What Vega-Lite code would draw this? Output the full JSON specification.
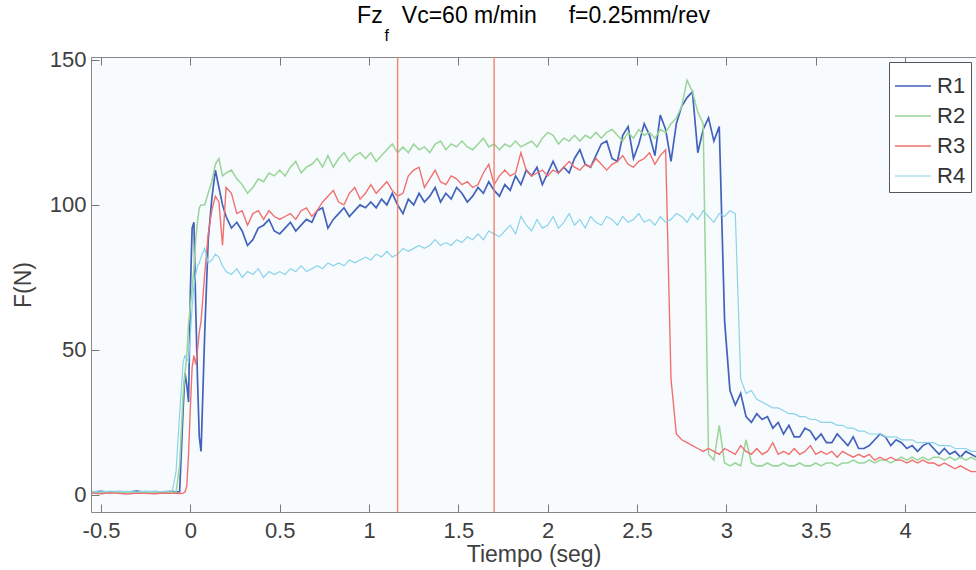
{
  "$schema": "https://vega.github.io/schema/vega-lite/v6.json",
  "width": 885,
  "height": 455,
  "autosize": {"type": "none"},
  "padding": {"left": 91, "top": 57, "right": 0, "bottom": 58},
  "background": "white",
  "title": {
    "text": "Fz\u00a0\u00a0\u00a0Vc=60 m/min\u00a0\u00a0\u00a0\u00a0\u00a0f=0.25mm/rev",
    "subtitle": "f\u00a0\u00a0\u00a0\u00a0\u00a0\u00a0\u00a0\u00a0\u00a0\u00a0\u00a0\u00a0\u00a0\u00a0\u00a0\u00a0\u00a0\u00a0\u00a0\u00a0\u00a0\u00a0\u00a0\u00a0\u00a0\u00a0\u00a0\u00a0\u00a0\u00a0\u00a0\u00a0\u00a0\u00a0\u00a0\u00a0\u00a0\u00a0\u00a0\u00a0\u00a0\u00a0\u00a0\u00a0\u00a0\u00a0\u00a0\u00a0\u00a0\u00a0\u00a0\u00a0\u00a0\u00a0\u00a0\u00a0\u00a0\u00a0\u00a0\u00a0\u00a0\u00a0\u00a0\u00a0\u00a0\u00a0\u200b",
    "anchor": "middle",
    "frame": "group",
    "font": "Liberation Sans",
    "fontSize": 23,
    "fontWeight": "normal",
    "color": "#000000",
    "subtitleFont": "Liberation Sans",
    "subtitleFontSize": 16,
    "subtitleColor": "#000000",
    "subtitlePadding": 0,
    "offset": 5
  },
  "config": {
    "view": {"stroke": null, "fill": "#f8fbfd"},
    "font": "Liberation Sans",
    "legend": {
      "orient": "top-right",
      "offset": 5,
      "symbolType": "stroke",
      "symbolSize": 1296,
      "symbolStrokeWidth": 1.3,
      "labelFontSize": 22,
      "labelColor": "#333333",
      "labelFont": "Liberation Sans",
      "fillColor": "white",
      "strokeColor": "#555555",
      "padding": 5,
      "rowPadding": -1,
      "labelOffset": 5
    }
  },
  "resolve": {"axis": {"x": "independent"}},
  "layer": [
    {
      "data": {
        "values": [
          {"t": -0.55, "R1": 1.0, "R2": 0.8, "R3": 0.6, "R4": 1.2},
          {"t": -0.5, "R1": 1.2, "R2": 0.9, "R3": 0.4, "R4": 1.0},
          {"t": -0.45, "R1": 0.9, "R2": 1.1, "R3": 0.7, "R4": 1.3},
          {"t": -0.4, "R1": 1.1, "R2": 0.7, "R3": 0.5, "R4": 1.1},
          {"t": -0.35, "R1": 1.0, "R2": 1.0, "R3": 0.3, "R4": 1.2},
          {"t": -0.3, "R1": 1.3, "R2": 0.8, "R3": 0.6, "R4": 1.0},
          {"t": -0.25, "R1": 0.9, "R2": 1.0, "R3": 0.5, "R4": 1.3},
          {"t": -0.2, "R1": 1.1, "R2": 0.9, "R3": 0.4, "R4": 1.1},
          {"t": -0.15, "R1": 1.0, "R2": 1.1, "R3": 0.6, "R4": 1.2},
          {"t": -0.1, "R1": 1.2, "R2": 0.9, "R3": 0.5, "R4": 1.4},
          {"t": -0.08, "R1": 1.0, "R2": 1.0, "R3": 0.6, "R4": 8},
          {"t": -0.06, "R1": 1.1, "R2": 10, "R3": 0.5, "R4": 28},
          {"t": -0.04, "R1": 30, "R2": 35, "R3": 0.6, "R4": 46},
          {"t": -0.03, "R1": 42, "R2": 42, "R3": 1.0, "R4": 48},
          {"t": -0.02, "R1": 38, "R2": 48, "R3": 3, "R4": 47},
          {"t": -0.01, "R1": 32, "R2": 59, "R3": 14, "R4": 46},
          {"t": 0, "R1": 70, "R2": 65, "R3": 30, "R4": 55},
          {"t": 0.01, "R1": 92, "R2": 71, "R3": 44, "R4": 65},
          {"t": 0.02, "R1": 94, "R2": 78, "R3": 48, "R4": 72},
          {"t": 0.03, "R1": 65, "R2": 88, "R3": 45, "R4": 76},
          {"t": 0.04, "R1": 40, "R2": 94, "R3": 50, "R4": 79},
          {"t": 0.05, "R1": 20, "R2": 99, "R3": 56, "R4": 80},
          {"t": 0.06, "R1": 15, "R2": 100, "R3": 60, "R4": 82},
          {"t": 0.08, "R1": 55, "R2": 100, "R3": 76, "R4": 85},
          {"t": 0.1, "R1": 88, "R2": 104, "R3": 90, "R4": 80},
          {"t": 0.12, "R1": 102, "R2": 108, "R3": 98, "R4": 81},
          {"t": 0.14, "R1": 112, "R2": 114, "R3": 103, "R4": 83},
          {"t": 0.16, "R1": 106, "R2": 116, "R3": 101, "R4": 82},
          {"t": 0.18, "R1": 100, "R2": 110, "R3": 86, "R4": 79},
          {"t": 0.2, "R1": 96, "R2": 111, "R3": 106, "R4": 77},
          {"t": 0.23, "R1": 92, "R2": 112, "R3": 104, "R4": 76},
          {"t": 0.26, "R1": 94, "R2": 109, "R3": 97, "R4": 78},
          {"t": 0.29, "R1": 91, "R2": 107, "R3": 98, "R4": 75},
          {"t": 0.32, "R1": 86, "R2": 104, "R3": 93, "R4": 77},
          {"t": 0.35, "R1": 88, "R2": 106, "R3": 97, "R4": 76},
          {"t": 0.38, "R1": 92, "R2": 109, "R3": 98, "R4": 78},
          {"t": 0.41, "R1": 93, "R2": 108, "R3": 95, "R4": 75},
          {"t": 0.44, "R1": 95, "R2": 111, "R3": 98, "R4": 77},
          {"t": 0.47, "R1": 91, "R2": 110, "R3": 96, "R4": 76},
          {"t": 0.5, "R1": 90, "R2": 112, "R3": 95, "R4": 77},
          {"t": 0.53, "R1": 92, "R2": 110, "R3": 96, "R4": 76},
          {"t": 0.56, "R1": 94, "R2": 113, "R3": 97, "R4": 78},
          {"t": 0.59, "R1": 91, "R2": 115, "R3": 95, "R4": 77},
          {"t": 0.62, "R1": 93, "R2": 111, "R3": 98, "R4": 79},
          {"t": 0.65, "R1": 95, "R2": 113, "R3": 99, "R4": 77},
          {"t": 0.68, "R1": 94, "R2": 114, "R3": 96, "R4": 78},
          {"t": 0.71, "R1": 98, "R2": 116, "R3": 98, "R4": 79},
          {"t": 0.74, "R1": 99, "R2": 113, "R3": 101, "R4": 78},
          {"t": 0.77, "R1": 92, "R2": 117, "R3": 103, "R4": 80},
          {"t": 0.8, "R1": 95, "R2": 113, "R3": 105, "R4": 79},
          {"t": 0.83, "R1": 97, "R2": 116, "R3": 101, "R4": 80},
          {"t": 0.86, "R1": 99, "R2": 118, "R3": 100, "R4": 79},
          {"t": 0.89, "R1": 96, "R2": 115, "R3": 104, "R4": 81},
          {"t": 0.92, "R1": 98, "R2": 117, "R3": 106, "R4": 80},
          {"t": 0.95, "R1": 100, "R2": 118, "R3": 102, "R4": 81},
          {"t": 0.98, "R1": 99, "R2": 116, "R3": 104, "R4": 82},
          {"t": 1.01, "R1": 101, "R2": 118, "R3": 107, "R4": 81},
          {"t": 1.04, "R1": 99, "R2": 115, "R3": 104, "R4": 83},
          {"t": 1.07, "R1": 102, "R2": 117, "R3": 106, "R4": 82},
          {"t": 1.1, "R1": 100, "R2": 119, "R3": 108, "R4": 84},
          {"t": 1.13, "R1": 104, "R2": 121, "R3": 105, "R4": 82},
          {"t": 1.16, "R1": 100, "R2": 118, "R3": 103, "R4": 83},
          {"t": 1.19, "R1": 97, "R2": 120, "R3": 104, "R4": 85},
          {"t": 1.22, "R1": 102, "R2": 118, "R3": 110, "R4": 84},
          {"t": 1.25, "R1": 100, "R2": 121, "R3": 112, "R4": 85},
          {"t": 1.28, "R1": 104, "R2": 119, "R3": 113, "R4": 86},
          {"t": 1.31, "R1": 101, "R2": 120, "R3": 106, "R4": 85},
          {"t": 1.34, "R1": 103, "R2": 118, "R3": 109, "R4": 86},
          {"t": 1.37, "R1": 106, "R2": 121, "R3": 112, "R4": 88},
          {"t": 1.4, "R1": 101, "R2": 122, "R3": 108, "R4": 86},
          {"t": 1.43, "R1": 104, "R2": 119, "R3": 107, "R4": 87},
          {"t": 1.46, "R1": 102, "R2": 121, "R3": 110, "R4": 86},
          {"t": 1.49, "R1": 106, "R2": 120, "R3": 109, "R4": 88},
          {"t": 1.52, "R1": 104, "R2": 122, "R3": 107, "R4": 87},
          {"t": 1.55, "R1": 101, "R2": 120, "R3": 108, "R4": 89},
          {"t": 1.58, "R1": 103, "R2": 119, "R3": 106, "R4": 88},
          {"t": 1.61, "R1": 106, "R2": 121, "R3": 107, "R4": 90},
          {"t": 1.64, "R1": 104, "R2": 123, "R3": 111, "R4": 88},
          {"t": 1.67, "R1": 108, "R2": 120, "R3": 114, "R4": 91},
          {"t": 1.7, "R1": 105, "R2": 121, "R3": 107, "R4": 90},
          {"t": 1.73, "R1": 103, "R2": 119, "R3": 110, "R4": 89},
          {"t": 1.76, "R1": 107, "R2": 121, "R3": 112, "R4": 91},
          {"t": 1.79, "R1": 105, "R2": 120, "R3": 110, "R4": 93},
          {"t": 1.82, "R1": 110, "R2": 122, "R3": 111, "R4": 90},
          {"t": 1.85, "R1": 107, "R2": 120, "R3": 118, "R4": 96},
          {"t": 1.88, "R1": 112, "R2": 121, "R3": 112, "R4": 93},
          {"t": 1.91, "R1": 110, "R2": 122, "R3": 110, "R4": 91},
          {"t": 1.94, "R1": 113, "R2": 120, "R3": 111, "R4": 95},
          {"t": 1.97, "R1": 107, "R2": 123, "R3": 112, "R4": 92},
          {"t": 2.0, "R1": 111, "R2": 125, "R3": 110, "R4": 93},
          {"t": 2.03, "R1": 115, "R2": 124, "R3": 112, "R4": 96},
          {"t": 2.06, "R1": 111, "R2": 121, "R3": 111, "R4": 92},
          {"t": 2.09, "R1": 113, "R2": 123, "R3": 113, "R4": 94},
          {"t": 2.12, "R1": 111, "R2": 122, "R3": 115, "R4": 97},
          {"t": 2.15, "R1": 116, "R2": 124, "R3": 113, "R4": 93},
          {"t": 2.18, "R1": 119, "R2": 122, "R3": 112, "R4": 95},
          {"t": 2.21, "R1": 114, "R2": 124, "R3": 114, "R4": 92},
          {"t": 2.24, "R1": 113, "R2": 123, "R3": 113, "R4": 96},
          {"t": 2.27, "R1": 117, "R2": 125, "R3": 116, "R4": 94},
          {"t": 2.3, "R1": 121, "R2": 123, "R3": 114, "R4": 93},
          {"t": 2.33, "R1": 122, "R2": 125, "R3": 112, "R4": 96},
          {"t": 2.36, "R1": 116, "R2": 126, "R3": 114, "R4": 95},
          {"t": 2.39, "R1": 115, "R2": 124, "R3": 115, "R4": 93},
          {"t": 2.42, "R1": 124, "R2": 122, "R3": 117, "R4": 96},
          {"t": 2.45, "R1": 127, "R2": 125, "R3": 114, "R4": 94},
          {"t": 2.48, "R1": 116, "R2": 123, "R3": 113, "R4": 95},
          {"t": 2.51, "R1": 121, "R2": 126, "R3": 115, "R4": 97},
          {"t": 2.54, "R1": 128, "R2": 124, "R3": 116, "R4": 94},
          {"t": 2.57, "R1": 124, "R2": 125, "R3": 118, "R4": 95},
          {"t": 2.6, "R1": 117, "R2": 123, "R3": 114, "R4": 93},
          {"t": 2.63, "R1": 131, "R2": 126, "R3": 117, "R4": 96},
          {"t": 2.66, "R1": 126, "R2": 125, "R3": 119, "R4": 94},
          {"t": 2.69, "R1": 115, "R2": 128, "R3": 40, "R4": 95},
          {"t": 2.72, "R1": 128, "R2": 130, "R3": 21, "R4": 97},
          {"t": 2.75, "R1": 134, "R2": 134, "R3": 19, "R4": 96},
          {"t": 2.78, "R1": 137, "R2": 143, "R3": 18, "R4": 94},
          {"t": 2.81, "R1": 139, "R2": 139, "R3": 17, "R4": 97},
          {"t": 2.84, "R1": 118, "R2": 132, "R3": 16, "R4": 95},
          {"t": 2.87, "R1": 126, "R2": 128, "R3": 15, "R4": 98},
          {"t": 2.9, "R1": 130, "R2": 14, "R3": 16, "R4": 96},
          {"t": 2.93, "R1": 122, "R2": 12, "R3": 15, "R4": 94},
          {"t": 2.96, "R1": 127, "R2": 24, "R3": 14, "R4": 97},
          {"t": 2.99, "R1": 60, "R2": 11, "R3": 16, "R4": 96},
          {"t": 3.02, "R1": 36, "R2": 10, "R3": 15, "R4": 98},
          {"t": 3.05, "R1": 31, "R2": 11, "R3": 14, "R4": 97},
          {"t": 3.08, "R1": 35, "R2": 10, "R3": 17, "R4": 40},
          {"t": 3.11, "R1": 27, "R2": 19, "R3": 15, "R4": 35},
          {"t": 3.14, "R1": 25, "R2": 11, "R3": 14, "R4": 36},
          {"t": 3.17, "R1": 28, "R2": 10, "R3": 16, "R4": 33},
          {"t": 3.2, "R1": 26, "R2": 10, "R3": 14, "R4": 32},
          {"t": 3.23, "R1": 27, "R2": 11, "R3": 15, "R4": 31},
          {"t": 3.26, "R1": 23, "R2": 10, "R3": 18, "R4": 30},
          {"t": 3.29, "R1": 25, "R2": 10, "R3": 14, "R4": 30},
          {"t": 3.32, "R1": 21, "R2": 11, "R3": 15, "R4": 29},
          {"t": 3.35, "R1": 24, "R2": 10, "R3": 14, "R4": 28},
          {"t": 3.38, "R1": 20, "R2": 10, "R3": 16, "R4": 28},
          {"t": 3.41, "R1": 20, "R2": 11, "R3": 14, "R4": 27},
          {"t": 3.44, "R1": 23, "R2": 10, "R3": 15, "R4": 27},
          {"t": 3.47, "R1": 22, "R2": 10, "R3": 17, "R4": 26},
          {"t": 3.5, "R1": 19, "R2": 11, "R3": 14, "R4": 26},
          {"t": 3.53, "R1": 21, "R2": 10, "R3": 15, "R4": 25},
          {"t": 3.56, "R1": 18, "R2": 11, "R3": 14, "R4": 25},
          {"t": 3.59, "R1": 18, "R2": 11, "R3": 15, "R4": 25},
          {"t": 3.62, "R1": 21, "R2": 10, "R3": 13, "R4": 24},
          {"t": 3.65, "R1": 19, "R2": 11, "R3": 15, "R4": 24},
          {"t": 3.68, "R1": 17, "R2": 11, "R3": 14, "R4": 23},
          {"t": 3.71, "R1": 20, "R2": 12, "R3": 13, "R4": 23},
          {"t": 3.74, "R1": 16, "R2": 11, "R3": 14, "R4": 22},
          {"t": 3.77, "R1": 16, "R2": 11, "R3": 13, "R4": 22},
          {"t": 3.8, "R1": 17, "R2": 12, "R3": 14, "R4": 21},
          {"t": 3.83, "R1": 19, "R2": 11, "R3": 12, "R4": 21},
          {"t": 3.86, "R1": 21, "R2": 12, "R3": 13, "R4": 21},
          {"t": 3.89, "R1": 20, "R2": 12, "R3": 12, "R4": 20},
          {"t": 3.92, "R1": 17, "R2": 11, "R3": 13, "R4": 20},
          {"t": 3.95, "R1": 19, "R2": 12, "R3": 12, "R4": 20},
          {"t": 3.98, "R1": 18, "R2": 13, "R3": 12, "R4": 19},
          {"t": 4.01, "R1": 16, "R2": 12, "R3": 11, "R4": 19},
          {"t": 4.04, "R1": 17, "R2": 13, "R3": 12, "R4": 19},
          {"t": 4.07, "R1": 15, "R2": 12, "R3": 11, "R4": 18},
          {"t": 4.1, "R1": 17, "R2": 13, "R3": 12, "R4": 18},
          {"t": 4.13, "R1": 18, "R2": 12, "R3": 11, "R4": 18},
          {"t": 4.16, "R1": 16, "R2": 13, "R3": 11, "R4": 18},
          {"t": 4.19, "R1": 14, "R2": 13, "R3": 10, "R4": 17},
          {"t": 4.22, "R1": 16, "R2": 12, "R3": 11, "R4": 17},
          {"t": 4.25, "R1": 14, "R2": 13, "R3": 10, "R4": 17},
          {"t": 4.28, "R1": 15, "R2": 12, "R3": 9, "R4": 16},
          {"t": 4.31, "R1": 13, "R2": 13, "R3": 10, "R4": 16},
          {"t": 4.34, "R1": 15, "R2": 12, "R3": 9, "R4": 16},
          {"t": 4.37, "R1": 14, "R2": 13, "R3": 8, "R4": 15},
          {"t": 4.4, "R1": 13, "R2": 12, "R3": 8, "R4": 15}
        ]
      },
      "transform": [{"fold": ["R1", "R2", "R3", "R4"], "as": ["run", "F"]}],
      "mark": {"type": "line", "clip": true},
      "encoding": {
        "x": {
          "field": "t",
          "type": "quantitative",
          "scale": {"domain": [-0.556, 4.397], "nice": false, "zero": false},
          "axis": {
            "orient": "bottom",
            "values": [-0.5, 0, 0.5, 1, 1.5, 2, 2.5, 3, 3.5, 4],
            "labelExpr": "'' + datum.value",
            "labelFont": "Liberation Sans",
            "labelFontSize": 22,
            "labelColor": "#404040",
            "labelPadding": 16,
            "labelFlush": false,
            "tickSize": -8,
            "tickColor": "#777777",
            "domainColor": "#888888",
            "grid": false,
            "title": "Tiempo (seg)",
            "titleFont": "Liberation Sans",
            "titleFontSize": 23,
            "titleFontWeight": "normal",
            "titleColor": "#404040",
            "titlePadding": 2
          }
        },
        "y": {
          "field": "F",
          "type": "quantitative",
          "scale": {"domain": [-5.9, 151], "nice": false, "zero": false},
          "axis": {
            "values": [0, 50, 100, 150],
            "labelFont": "Liberation Sans",
            "labelFontSize": 22,
            "labelColor": "#404040",
            "labelPadding": 13,
            "tickSize": -8,
            "tickColor": "#777777",
            "domainColor": "#888888",
            "grid": false,
            "title": "F(N)",
            "titleFont": "Liberation Sans",
            "titleFontSize": 23,
            "titleFontWeight": "normal",
            "titleColor": "#404040",
            "titlePadding": 14
          }
        },
        "color": {
          "field": "run",
          "type": "nominal",
          "scale": {"domain": ["R1", "R2", "R3", "R4"], "range": ["#4262bb", "#9ad69a", "#f06e6e", "#8ad3ea"]},
          "legend": {"title": null}
        },
        "strokeWidth": {
          "field": "run",
          "type": "nominal",
          "scale": {"domain": ["R1", "R2", "R3", "R4"], "range": [1.7, 1.2, 1.3, 1.2]},
          "legend": null
        }
      }
    },
    {
      "data": {"values": [{"t": 1.16}, {"t": 1.7}]},
      "mark": {"type": "rule", "color": "#f3826f", "strokeWidth": 1.4},
      "encoding": {
        "x": {
          "field": "t",
          "type": "quantitative",
          "axis": {
            "orient": "top",
            "values": [-0.5, 0, 0.5, 1, 1.5, 2, 2.5, 3, 3.5, 4],
            "labels": false,
            "tickSize": -8,
            "tickColor": "#777777",
            "domainColor": "#888888",
            "grid": false,
            "title": null
          }
        }
      }
    }
  ]
}
